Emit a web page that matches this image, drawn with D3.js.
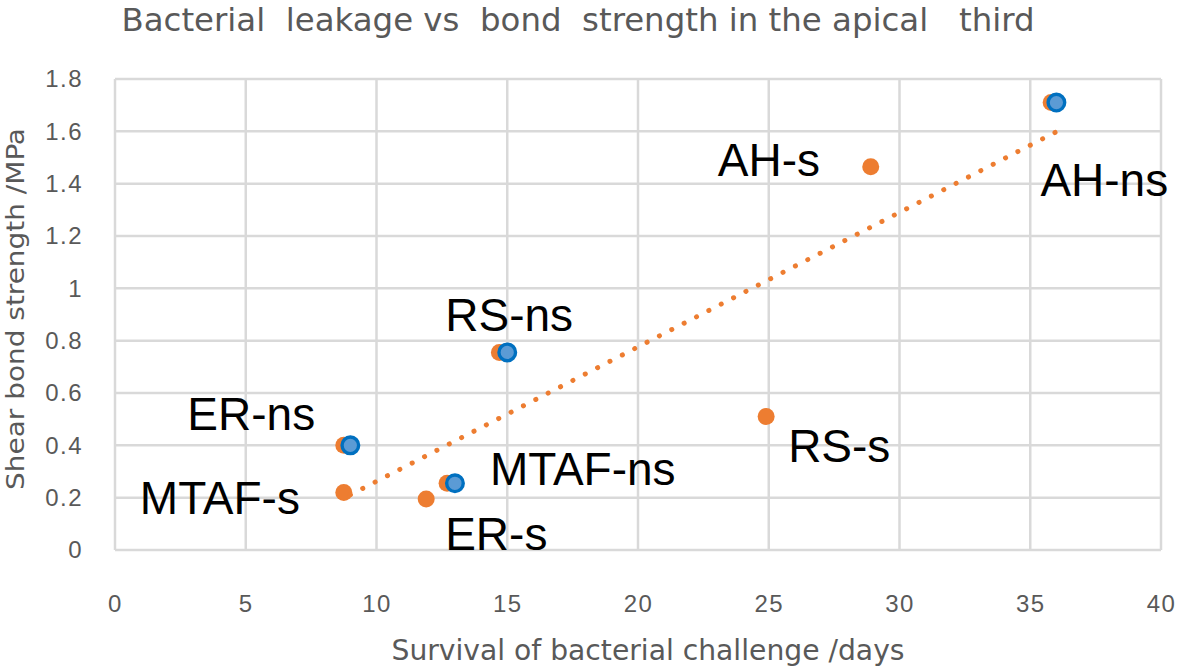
<!DOCTYPE html>
<html>
<head>
<meta charset="utf-8">
<script src="https://cdn.jsdelivr.net/npm/d3@7"></script>
<style>
  body { margin: 0; background: #fff; }
  svg { display: block; }
</style>
</head>
<body>
<div id="chart"></div>
<script>
// orange series (sealed) and blue series (non-sealed)
const sDays = [8.75, 8.75, 11.9, 12.7, 14.7, 24.9, 28.9, 35.8];
const sBond = [0.4, 0.22, 0.195, 0.255, 0.755, 0.51, 1.465, 1.71];
const nsDays = [9, 13, 15, 36];
const nsBond = [0.4, 0.255, 0.755, 1.71];

const xTicks = [0, 5, 10, 15, 20, 25, 30, 35, 40];
const yTicks = [0, 0.2, 0.4, 0.6, 0.8, 1, 1.2, 1.4, 1.6, 1.8];
const trendRange = [9, 36];

// labels: text, series, index in series
const labelText = ["AH-s", "AH-ns", "RS-ns", "ER-ns", "MTAF-s", "MTAF-ns", "ER-s", "RS-s"];
const labelSeries = ["s", "ns", "ns", "ns", "s", "ns", "s", "s"];
const labelIndex = [6, 3, 2, 0, 1, 1, 2, 5];
// pixel offsets from the point to the label's left baseline
const labelOffset = [[-153, 9], [-16, 93], [-62, -21], [-163, -15], [-204, 22], [35, 2], [19, 51], [22, 45]];

const width = 1182, height = 667;
const margin = {top: 79, right: 21, bottom: 117, left: 115};

const svg = d3.select("#chart").append("svg")
    .attr("width", width)
    .attr("height", height);

const x = d3.scaleLinear().domain([0, 40]).range([margin.left, width - margin.right]);
const y = d3.scaleLinear().domain([0, 1.8]).range([height - margin.bottom, margin.top]);

const narrow = "'Liberation Sans Narrow', 'DejaVu Sans Condensed', sans-serif";
const grey = "#595959";

// title
svg.append("text")
    .attr("x", 578).attr("y", 31)
    .attr("text-anchor", "middle")
    .attr("font-family", narrow)
    .attr("font-size", 32)
    .attr("fill", grey)
    .attr("textLength", 913)
    .attr("lengthAdjust", "spacingAndGlyphs")
    .style("white-space", "pre")
    .text("Bacterial  leakage vs  bond  strength in the apical   third");

// grid
svg.append("g").selectAll("line")
    .data(yTicks)
    .join("line")
    .attr("x1", x(0)).attr("x2", x(40))
    .attr("y1", d => y(d)).attr("y2", d => y(d))
    .attr("stroke", "#d9d9d9").attr("stroke-width", 2.5);

svg.append("g").selectAll("line")
    .data(xTicks)
    .join("line")
    .attr("x1", d => x(d)).attr("x2", d => x(d))
    .attr("y1", y(0)).attr("y2", y(1.8))
    .attr("stroke", "#d9d9d9").attr("stroke-width", 2.5);

// axes tick labels
const yAxis = svg.append("g")
    .attr("transform", `translate(${x(0)},0)`)
    .call(d3.axisLeft(y).tickValues(yTicks).tickSize(0).tickPadding(32).tickFormat(d3.format("~g")));
const xAxis = svg.append("g")
    .attr("transform", `translate(0,${y(0)})`)
    .call(d3.axisBottom(x).tickValues(xTicks).tickSize(0).tickPadding(45));
[xAxis, yAxis].forEach(a => {
    a.select(".domain").remove();
    a.selectAll("text")
        .attr("font-family", "'Liberation Sans', Arial, sans-serif")
        .attr("font-size", 24)
        .attr("letter-spacing", 1.5)
        .attr("fill", grey);
});

// axis titles
svg.append("text")
    .attr("x", 648).attr("y", 660)
    .attr("text-anchor", "middle")
    .attr("font-family", narrow)
    .attr("font-size", 28)
    .attr("fill", grey)
    .attr("textLength", 513)
    .attr("lengthAdjust", "spacingAndGlyphs")
    .text("Survival of bacterial challenge /days");

svg.append("text")
    .attr("transform", "translate(24,309) rotate(-90)")
    .attr("text-anchor", "middle")
    .attr("font-family", narrow)
    .attr("font-size", 25)
    .attr("fill", grey)
    .attr("textLength", 362)
    .attr("lengthAdjust", "spacingAndGlyphs")
    .text("Shear bond strength /MPa");

// least squares trendline through orange series
const mx = d3.mean(sDays), my = d3.mean(sBond);
const slope = d3.sum(sDays, (d, i) => (d - mx) * (sBond[i] - my)) / d3.sum(sDays, d => (d - mx) * (d - mx));
const icpt = my - slope * mx;

const sPts = sDays.map((d, i) => ({x: d, y: sBond[i]}));
const nsPts = nsDays.map((d, i) => ({x: d, y: nsBond[i]}));

svg.append("g").selectAll("circle")
    .data(sPts)
    .join("circle")
    .attr("cx", d => x(d.x)).attr("cy", d => y(d.y))
    .attr("r", 8.5)
    .attr("fill", "#ED7D31");

svg.append("line")
    .attr("x1", x(trendRange[0])).attr("y1", y(icpt + slope * trendRange[0]))
    .attr("x2", x(trendRange[1])).attr("y2", y(icpt + slope * trendRange[1]))
    .attr("stroke", "#ED7D31")
    .attr("stroke-width", 5)
    .attr("stroke-linecap", "round")
    .attr("stroke-dasharray", "0.1 13.8");

svg.append("g").selectAll("circle")
    .data(nsPts)
    .join("circle")
    .attr("cx", d => x(d.x)).attr("cy", d => y(d.y))
    .attr("r", 8.3)
    .attr("fill", "#5B9BD5")
    .attr("stroke", "#0070C0")
    .attr("stroke-width", 3.4);

// point labels
svg.append("g").selectAll("text")
    .data(labelText)
    .join("text")
    .attr("x", (d, i) => {
        const p = labelSeries[i] === "s" ? sPts[labelIndex[i]] : nsPts[labelIndex[i]];
        return x(p.x) + labelOffset[i][0];
    })
    .attr("y", (d, i) => {
        const p = labelSeries[i] === "s" ? sPts[labelIndex[i]] : nsPts[labelIndex[i]];
        return y(p.y) + labelOffset[i][1];
    })
    .attr("font-family", "'Liberation Sans', Arial, sans-serif")
    .attr("font-size", 46)
    .attr("fill", "#000")
    .text(d => d);
</script>
</body>
</html>
